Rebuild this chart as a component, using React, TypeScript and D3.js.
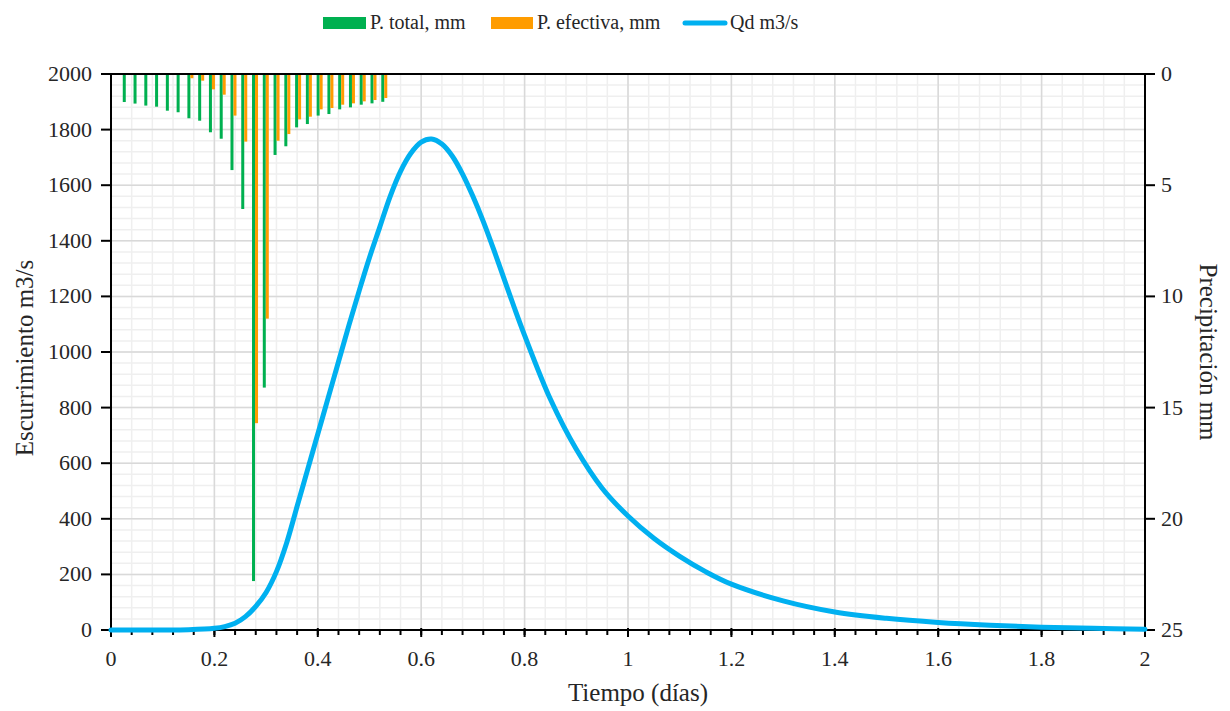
import React from "react";
import * as d3 from "d3";

// Precipitation per half-hour interval (mm)
const rainStep: number[] = Array.from({ length: 25 }, (_, i) => i + 1); // interval index (0.5 h)
const pTotal: number[] = [1.26, 1.33, 1.42, 1.47, 1.65, 1.72, 1.99, 2.10, 2.62, 2.91, 4.32, 6.07, 22.8, 14.1, 3.64, 3.25, 2.40, 2.25, 1.87, 1.80, 1.59, 1.50, 1.38, 1.32, 1.25];
const pEfectiva: number[] = [0, 0, 0, 0, 0, 0, 0.19, 0.30, 0.69, 0.93, 1.87, 3.04, 15.7, 11.0, 3.00, 2.70, 2.04, 1.92, 1.59, 1.53, 1.38, 1.32, 1.23, 1.17, 1.08];

// Hydrograph
const qTime: number[] = [0, 0.05, 0.1, 0.15, 0.2, 0.22, 0.24, 0.26, 0.28, 0.3, 0.32, 0.34, 0.36, 0.38, 0.4, 0.42, 0.44, 0.46, 0.48, 0.5, 0.52, 0.54, 0.56, 0.58, 0.6, 0.62, 0.64, 0.66, 0.68, 0.7, 0.72, 0.74, 0.76, 0.78, 0.8, 0.85, 0.9, 0.95, 1.0, 1.05, 1.1, 1.15, 1.2, 1.3, 1.4, 1.5, 1.6, 1.7, 1.8, 1.9, 2.0];
const qValue: number[] = [0, 0, 0, 1, 6, 12, 24, 48, 85, 135, 210, 315, 445, 575, 705, 835, 965, 1095, 1220, 1340, 1450, 1560, 1650, 1715, 1755, 1766, 1748, 1705, 1640, 1560, 1470, 1370, 1265, 1160, 1060, 830, 650, 510, 410, 330, 265, 210, 165, 105, 65, 42, 27, 17, 10, 6, 3];

const xTicks: number[] = [0, 0.2, 0.4, 0.6, 0.8, 1, 1.2, 1.4, 1.6, 1.8, 2];
const yTicks: number[] = [0, 200, 400, 600, 800, 1000, 1200, 1400, 1600, 1800, 2000];
const y2Ticks: number[] = [0, 5, 10, 15, 20, 25];

const W = 1230, H = 711;
const L = 111, R = 1145, T = 74, B = 630;
const FONT = "Liberation Serif, Times New Roman, serif";
const GREEN = "#00b050", ORANGE = "#ff9c00", BLUE = "#00b0f0";
const TXT = "#262626";

export default function App() {
  const x = d3.scaleLinear().domain([0, 2]).range([L, R]);
  const y = d3.scaleLinear().domain([0, 2000]).range([B, T]);
  const y2 = d3.scaleLinear().domain([0, 25]).range([T, B]);

  const minorX = d3.range(0, 2.0001, 0.04);
  const minorY = d3.range(0, 2000.1, 40);

  const line = d3.line<number>()
    .x((_, i) => x(qTime[i]))
    .y((d) => y(d))
    .curve(d3.curveCatmullRom.alpha(0.5));

  const barW = 3;
  const barT = rainStep.map((s) => s / 48);

  return (
    <svg width={W} height={H} style={{ position: "absolute", left: 0, top: 0, background: "#fff" }}>
      <rect x={0} y={0} width={W} height={H} fill="#fff" />
      {/* minor grid */}
      {minorX.map((v, i) => (
        <line key={"mx" + i} x1={x(v)} x2={x(v)} y1={T} y2={B} stroke="#efefef" strokeWidth={1.5} />
      ))}
      {minorY.map((v, i) => (
        <line key={"my" + i} x1={L} x2={R} y1={y(v)} y2={y(v)} stroke="#efefef" strokeWidth={1.5} />
      ))}
      {/* major grid */}
      {xTicks.map((v, i) => (
        <line key={"gx" + i} x1={x(v)} x2={x(v)} y1={T} y2={B} stroke="#d9d9d9" strokeWidth={1.5} />
      ))}
      {yTicks.map((v, i) => (
        <line key={"gy" + i} x1={L} x2={R} y1={y(v)} y2={y(v)} stroke="#d9d9d9" strokeWidth={1.5} />
      ))}
      {/* bars */}
      {pTotal.map((v, i) => (
        <rect key={"g" + i} x={x(barT[i]) + 2.5 - barW / 2} y={y2(0)} width={barW} height={y2(v) - y2(0)} fill={GREEN} />
      ))}
      {pEfectiva.map((v, i) => (
        <rect key={"o" + i} x={x(barT[i]) + 5.5 - barW / 2} y={y2(0)} width={barW} height={y2(v) - y2(0)} fill={ORANGE} />
      ))}
      {/* axes */}
      <line x1={L} x2={R} y1={T} y2={T} stroke="#000" strokeWidth={2} />
      <line x1={L} x2={R} y1={B} y2={B} stroke="#000" strokeWidth={2} />
      <line x1={L} x2={L} y1={T} y2={B} stroke="#000" strokeWidth={2} />
      <line x1={R} x2={R} y1={T} y2={B} stroke="#000" strokeWidth={2} />
      {minorX.map((v, i) => (
        <line key={"mt" + i} x1={x(v)} x2={x(v)} y1={B} y2={B + 5} stroke="#000" strokeWidth={2} />
      ))}
      {xTicks.map((v, i) => (
        <line key={"xt" + i} x1={x(v)} x2={x(v)} y1={B - 2} y2={B + 7} stroke="#000" strokeWidth={2} />
      ))}
      {yTicks.map((v, i) => (
        <line key={"yt" + i} x1={L - 10} x2={L} y1={y(v)} y2={y(v)} stroke="#000" strokeWidth={2} />
      ))}
      {y2Ticks.map((v, i) => (
        <line key={"y2t" + i} x1={R} x2={R + 10} y1={y2(v)} y2={y2(v)} stroke="#000" strokeWidth={2} />
      ))}
      {/* hydrograph */}
      <path d={line(qValue) || ""} fill="none" stroke={BLUE} strokeWidth={5} strokeLinejoin="round" strokeLinecap="round" />
      {/* tick labels */}
      <g fontFamily={FONT} fontSize={22} fill={TXT}>
        {xTicks.map((v, i) => (
          <text key={"xl" + i} x={x(v)} y={B + 36} textAnchor="middle">{String(v)}</text>
        ))}
        {yTicks.map((v, i) => (
          <text key={"yl" + i} x={L - 19} y={y(v) + 7} textAnchor="end">{String(v)}</text>
        ))}
        {y2Ticks.map((v, i) => (
          <text key={"y2l" + i} x={R + 16} y={y2(v) + 7} textAnchor="start">{String(v)}</text>
        ))}
      </g>
      {/* axis titles */}
      <g fontFamily={FONT} fontSize={25} fill={TXT}>
        <text x={(L + R) / 2 + 10} y={701} textAnchor="middle">Tiempo (días)</text>
        <text transform={`translate(33, ${(T + B) / 2 + 6}) rotate(-90)`} textAnchor="middle">Escurrimiento m3/s</text>
        <text transform={`translate(1200, ${(T + B) / 2}) rotate(90)`} textAnchor="middle">Precipitación mm</text>
      </g>
      {/* legend */}
      <g fontFamily={FONT} fontSize={20} fill={TXT}>
        <rect x={323} y={17} width={43} height={12} fill={GREEN} />
        <text x={370} y={29}>P. total, mm</text>
        <rect x={491} y={17} width={42} height={12} fill={ORANGE} />
        <text x={537} y={29}>P. efectiva, mm</text>
        <line x1={685} x2={725} y1={23} y2={23} stroke={BLUE} strokeWidth={5} strokeLinecap="round" />
        <text x={730} y={29}>Qd m3/s</text>
      </g>
    </svg>
  );
}
